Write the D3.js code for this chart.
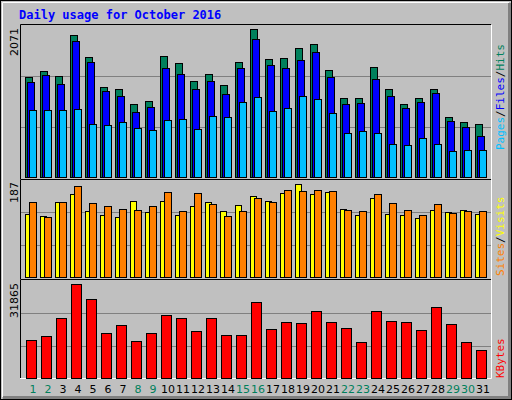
<!DOCTYPE html><html><head><meta charset="utf-8"><script src="https://d3js.org/d3.v7.min.js"></script>
<style>body{margin:0;background:#fff}svg{display:block}</style></head><body><script>
const days=d3.range(1,32);
const weekend=[1,2,8,9,15,16,22,23,29,30];
const hits=[1367,1450,1381,1943,1642,1230,1203,997,1038,1655,1559,1313,1409,1258,1573,2026,1614,1628,1765,1820,1463,1079,1079,1505,1203,997,1079,1203,819,750,723];
const files=[1299,1395,1271,1865,1573,1175,1107,887,956,1491,1409,1203,1313,1134,1491,1889,1532,1491,1601,1710,1367,997,1011,1340,1107,942,1025,1148,764,682,558];
const pages=[915,915,915,929,723,709,750,668,640,778,791,654,832,819,1025,1093,901,942,1107,1066,874,599,627,599,448,435,531,448,352,366,366];
const sites=[121,117,145,160,128,119,115,147,125,147,119,136,145,127,138,156,147,162,179,160,164,132,119,153,121,119,113,130,125,130,121];
const visits=[145,115,145,175,143,136,132,130,136,164,128,162,141,117,127,153,145,168,166,168,166,130,128,160,143,130,119,141,123,127,127];
const kbytes=[12374,13690,19600,30770,25840,14670,17300,12045,14670,20590,19600,15330,19600,14016,14016,24860,15990,18290,17960,21900,18290,16316,11717,21900,18615,18290,15660,23214,17630,11717,9089];
const maxLabels=["2071","187","31865"];
const W=512,H=400;
const svg=d3.select("body").append("svg").attr("width",W).attr("height",H);
svg.append("rect").attr("width",W).attr("height",H).attr("fill","#c0c0c0");
svg.append("rect").attr("x",0.5).attr("y",0.5).attr("width",W-1).attr("height",H-1).attr("fill","none").attr("stroke","#000");
svg.append("path").attr("d","M2.5,397V2.5H509").attr("fill","none").attr("stroke","#fff");
svg.append("path").attr("d","M509.5,3V397.5H3").attr("fill","none").attr("stroke","#808080").attr("stroke-width",3);
const font="'DejaVu Sans Mono', monospace";
svg.append("text").attr("x",19).attr("y",19).attr("fill","#0000ff").attr("font-family",font).attr("font-weight","bold").attr("font-size",12).text("Daily usage for October 2016");
const x=d3.scaleLinear().domain([1,31]).range([25,475]);
const panels=[{top:26,bot:177,max:2071,series:[[hits,"#00805c",0,7],[files,"#0000ff",2,7],[pages,"#00c0ff",4,7]]},
{top:180,bot:277,max:187,series:[[sites,"#ffff00",0,6],[visits,"#ff8000",4,7]]},
{top:281,bot:378,max:31865,series:[[kbytes,"#ff0000",1,10]]}];
const frames=[[24,179],[179,279],[279,378]];
panels.forEach((p,pi)=>{
  const y=d3.scaleLinear().domain([0,p.max]).range([p.bot,p.top]);
  const f=frames[pi];
  [1/3,2/3].forEach(t=>svg.append("line").attr("x1",20).attr("x2",491).attr("y1",Math.round(y(p.max*t))+0.5).attr("y2",Math.round(y(p.max*t))+0.5).attr("stroke","#808080"));
  svg.append("path").attr("d",`M20.5,${f[1]}V${f[0]+0.5}H491`).attr("fill","none").attr("stroke","#000");
  svg.append("path").attr("d",`M491.5,${f[0]+1}V${f[1]+0.5}H20`).attr("fill","none").attr("stroke","#fff");
  p.series.forEach(([vals,col,off,w])=>{
    svg.append("g").selectAll("rect").data(days).join("rect")
      .attr("x",d=>x(d)+off+0.5).attr("width",w).attr("y",d=>Math.round(y(vals[d-1]))+0.5)
      .attr("height",d=>p.bot-Math.round(y(vals[d-1])))
      .attr("fill",col).attr("stroke","#000");
  });
  svg.append("text").attr("transform",`translate(18,${p.top+2}) rotate(-90)`).attr("text-anchor","end")
    .attr("font-family","'DejaVu Sans', sans-serif").attr("font-size",11).attr("fill","#000").text(maxLabels[pi]);
});
svg.append("g").selectAll("text").data(days).join("text").attr("x",d=>x(d)+8).attr("y",393).attr("text-anchor","middle")
  .attr("font-family","'DejaVu Sans', sans-serif").attr("font-size",11).attr("fill",d=>weekend.includes(d)?"#00805c":"#000").text(d=>d);
function side(y0,parts){
  const t=svg.append("text").attr("transform",`translate(504,${y0}) rotate(-90)`).attr("font-family",font).attr("font-size",11);
  parts.forEach(([s,c])=>t.append("tspan").attr("fill",c).text(s));
}
side(150,[["Pages","#00c0ff"],["/","#000"],["Files","#0000ff"],["/","#000"],["Hits","#00805c"]]);
side(276,[["Sites","#ff8000"],["/","#000"],["Visits","#ffff00"]]);
side(378,[["KBytes","#ff0000"]]);
</script></body></html>
